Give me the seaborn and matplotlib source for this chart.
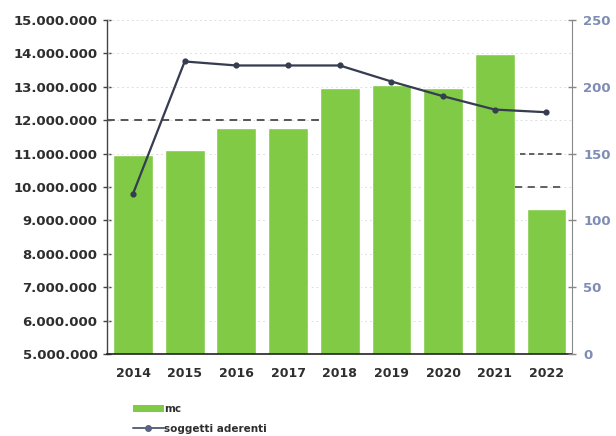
"""Bar + line combo: volumes (mc) and adhering subjects per year."""

import matplotlib
matplotlib.use("Agg")
import matplotlib.pyplot as plt
import matplotlib.ticker as mticker
from matplotlib.lines import Line2D
from matplotlib.patches import Patch
import pandas as pd
import seaborn as sns

years = ["2014", "2015", "2016", "2017", "2018", "2019", "2020", "2021", "2022"]
mc = [10950000, 11100000, 11780000, 11780000, 12970000, 13050000, 12970000, 13980000, 9340000]
soggetti = [120, 219, 216, 216, 216, 204, 193, 183, 181]

left_ticks = list(range(5000000, 15000001, 1000000))
right_ticks = [0, 50, 100, 150, 200, 250]

GREEN = "#80ca46"
LINE = "#363d50"
BLUE_TXT = "#7f8db5"
DARK_TXT = "#2e2e2e"

sns.set_style("white")
plt.rcParams["font.family"] = ["DejaVu Sans"]

df = pd.DataFrame({"anno": years, "mc": mc, "soggetti": soggetti})

fig = plt.figure(figsize=(6.16, 4.36), dpi=100)
ax = fig.add_axes([0.174, 0.188, 0.755, 0.766])

sns.barplot(data=df, x="anno", y="mc", color=GREEN, saturation=1,
            width=0.77, ax=ax, zorder=2)
ax.set_ylim(5000000, 15000000)
ax.set_yticks(left_ticks)
ax.yaxis.set_major_formatter(
    mticker.FuncFormatter(lambda v, p: f"{int(v):,}".replace(",", ".")))
ax.set_xlabel("")
ax.set_ylabel("")
ax.set_xlim(-0.5, len(years) - 0.5)

# faint gridlines and the stray dashed guide lines in the original
for t in left_ticks[1:]:
    ax.axhline(t, color="#dedede", lw=0.7, ls=(0, (2, 3)), zorder=1)
ax.axhline(12000000, xmin=0, xmax=0.46, color="#555555", lw=1.4,
           ls=(0, (4, 3)), zorder=1)

ax2 = ax.twinx()
sns.pointplot(data=df, x="anno", y="soggetti", color=LINE, markers="o",
              scale=0.6, linewidth=1.6, ax=ax2, zorder=4)
ax2.set_ylim(0, 250)
ax2.set_yticks(right_ticks)
ax2.set_ylabel("")
ax2.set_xlim(-0.5, len(years) - 0.5)
ax2.axhline(150, xmin=0.888, xmax=0.985, color="#555555", lw=1.3,
            ls=(0, (3, 2)), zorder=1)
ax2.axhline(125, xmin=0.876, xmax=0.985, color="#555555", lw=1.3,
            ls=(0, (4, 3)), zorder=1)

# spines and ticks
for a in (ax, ax2):
    a.spines["top"].set_visible(False)
ax.spines["right"].set_visible(False)
ax.spines["left"].set_color("#444444")
ax.spines["bottom"].set_color("#222222")
ax.spines["left"].set_linewidth(1.0)
ax.spines["bottom"].set_linewidth(1.2)
ax2.spines["left"].set_visible(False)
ax2.spines["bottom"].set_visible(False)
ax2.spines["right"].set_color("#888888")

ax.tick_params(axis="y", direction="inout", length=6, width=1.0,
               color="#444444", labelsize=9.5, labelcolor=DARK_TXT, pad=4)
ax.tick_params(axis="x", length=0, labelsize=9, labelcolor=DARK_TXT, pad=9)
ax.set_xticks([i + 0.5 for i in range(len(years) - 1)], minor=True)
ax.tick_params(axis="x", which="minor", direction="inout", length=6,
               width=1.0, color="#222222")
ax2.tick_params(axis="y", direction="inout", length=6, width=1.0,
                color="#888888", labelsize=9.5, labelcolor=BLUE_TXT, pad=5)
for lab in ax.get_yticklabels() + ax.get_xticklabels():
    lab.set_fontweight("bold")
for lab in ax2.get_yticklabels():
    lab.set_fontweight("bold")

handles = [
    Patch(facecolor=GREEN, edgecolor="none", label="mc"),
    Line2D([0], [0], color="#5a6480", lw=1.4, marker="o", markersize=4,
           label="soggetti aderenti"),
]
fig.legend(handles=handles, loc="upper left", bbox_to_anchor=(0.2, 0.095),
           frameon=False, handlelength=3.0, handleheight=0.6,
           handletextpad=0.0, labelspacing=0.95,
           prop={"size": 7.5, "weight": "bold"}, labelcolor=DARK_TXT)

fig.savefig("out.png", dpi=100)
